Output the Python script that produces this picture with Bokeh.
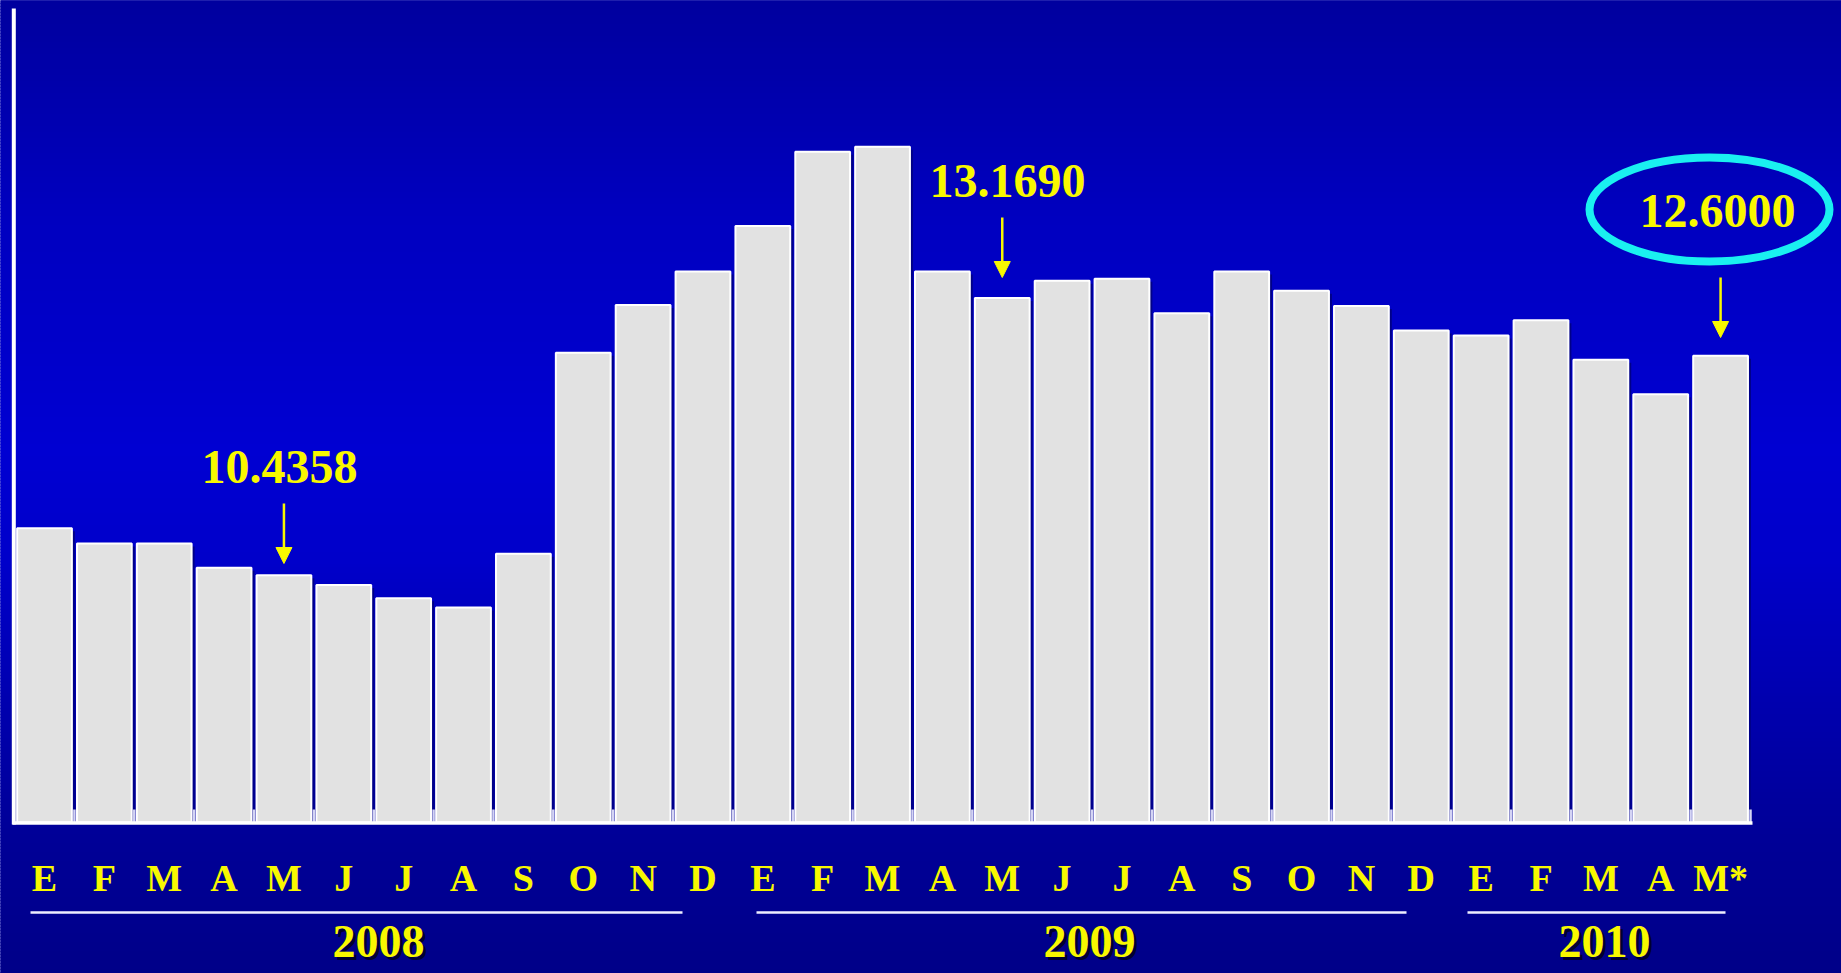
from bokeh.plotting import figure
from bokeh.models import Range1d, Arrow, NormalHead, ColumnDataSource
from bokeh.core.properties import value
from bokeh.embed import file_html
from bokeh.resources import INLINE
import numpy as np

# ---------------- data ----------------
months = ["E", "F", "M", "A", "M", "J", "J", "A", "S", "O", "N", "D",
          "E", "F", "M", "A", "M", "J", "J", "A", "S", "O", "N", "D",
          "E", "F", "M", "A", "M*"]
years = ["2008", "2009", "2010"]
year_counts = [12, 12, 5]
values = [10.90, 10.75, 10.75, 10.51, 10.4358, 10.34, 10.21, 10.12, 10.65,
          12.63, 13.10, 13.43, 13.88, 14.61, 14.66, 13.43, 13.1690, 13.34,
          13.36, 13.02, 13.43, 13.24, 13.09, 12.85, 12.80, 12.95, 12.56,
          12.22, 12.6000]
callout_index = [4, 16, 28]
callout_text = ["10.4358", "13.1690", "12.6000"]

# ---------------- layout (pixel geometry of the picture) ----------------
W, H = 1841, 973
STEP_PX = 59.86      # pixels per bar slot
UNIT_PX = 101.46     # pixels per value unit
BASE = 8.0           # value at the baseline
X_REF0 = 44.0        # centre of first bar (px)
Y_BASE = 822.0       # baseline (px)
TOP_PX = 0.0
LEFT_PX = 0.0
TXT_SHIFT = 0.35     # baseline correction, in em


def dx(px):
    return (px - X_REF0) / STEP_PX


def dy(py):
    return BASE + (Y_BASE - py) / UNIT_PX


def ty(py, size):
    return dy(py - TXT_SHIFT * size)


p = figure(width=W, height=H, output_backend="svg", toolbar_location=None,
           x_range=Range1d(dx(LEFT_PX), dx(LEFT_PX + W)),
           y_range=Range1d(dy(TOP_PX + H), dy(TOP_PX)),
           x_axis_type=None, y_axis_type=None, min_border=0,
           outline_line_color=None, background_fill_color="#0000B8",
           border_fill_color="#0000B8")

# vertical gradient background
stops_y = [0, 220, 450, 560, 700, 830, 973]
stops_b = [158, 192, 210, 202, 175, 152, 136]
band = 3
edges = np.arange(TOP_PX - 3, TOP_PX + H + band + 3, band)
cols = []
for e in edges:
    b = int(round(np.interp(e + band / 2, stops_y, stops_b)))
    cols.append("#%02x%02x%02x" % (0, 0, b))
p.quad(left=dx(LEFT_PX - 5), right=dx(LEFT_PX + W + 5),
       top=[dy(e - 0.6) for e in edges], bottom=[dy(e + band + 0.6) for e in edges],
       fill_color=cols, line_color=None)

idx = list(range(len(values)))
src = ColumnDataSource(dict(x=idx, top=values, month=months))

# bar shadows
p.vbar(x=[i + 3 / STEP_PX for i in idx], top=[v - 3 / UNIT_PX for v in values],
       bottom=BASE, width=0.915, fill_color="#000088", line_color=None)
# bars
p.vbar(x="x", top="top", bottom=BASE, width=0.915, source=src,
       fill_color="#E2E2E2", line_color="white", line_width=2)

# tick marks at slot boundaries
tb = [i + 0.5 for i in idx]
p.segment(x0=tb, x1=tb, y0=BASE, y1=dy(809), line_color="#D4D4F4", line_width=2.5)
# axes lines
p.segment(x0=[dx(13.3)], x1=[dx(13.3)], y0=[dy(824)], y1=[dy(8)],
          line_color="white", line_width=4)
p.segment(x0=[dx(12)], x1=[dx(1752)], y0=[dy(822.5)], y1=[dy(822.5)],
          line_color="white", line_width=3.5)

YELLOW = "#F8F800"
FONT = value("Liberation Serif")

# month labels
p.text(x="x", y=ty(891, 38), text="month", source=src, text_font=FONT,
       text_font_style="bold", text_font_size="38px", text_color=YELLOW,
       text_align="center", text_baseline="alphabetic")

# year underlines and labels
line_px = [(30, 682), (756, 1406), (1467, 1725)]
year_px = [378, 1089, 1604]
p.segment(x0=[dx(a) for a, b in line_px], x1=[dx(b) for a, b in line_px],
          y0=dy(912), y1=dy(912), line_color="#EEEEFF", line_width=2.5)
p.text(x=[dx(c) for c in year_px], y=ty(957, 46), text=years, text_font=FONT,
       text_font_style="bold", text_font_size="46px", text_color="#000030",
       text_align="center", text_baseline="alphabetic", x_offset=3, y_offset=3)
p.text(x=[dx(c) for c in year_px], y=ty(957, 46), text=years, text_font=FONT,
       text_font_style="bold", text_font_size="46px", text_color=YELLOW,
       text_align="center", text_baseline="alphabetic")

# call-outs
label_px = [(279, 483), (1007, 197), (1717, 227)]
arrow_px = [(503, 563), (217, 277), (277, 337)]
p.text(x=[dx(a) for a, b in label_px], y=[ty(b, 48) for a, b in label_px],
       text=callout_text, text_font=FONT, text_font_style="bold",
       text_font_size="48px", text_color=YELLOW, text_align="center",
       text_baseline="alphabetic")
for i, (y0, y1) in zip(callout_index, arrow_px):
    p.add_layout(Arrow(end=NormalHead(size=16, fill_color=YELLOW, line_color=YELLOW),
                       x_start=i, y_start=dy(y0), x_end=i, y_end=dy(y1),
                       line_color=YELLOW, line_width=2.5))

p.ellipse(x=[dx(1709)], y=[dy(209)], width=240, height=104,
          width_units="screen", height_units="screen",
          fill_color=None, line_color="#1AF0F0", line_width=8)

open("out.html", "w").write(file_html(p, INLINE))
